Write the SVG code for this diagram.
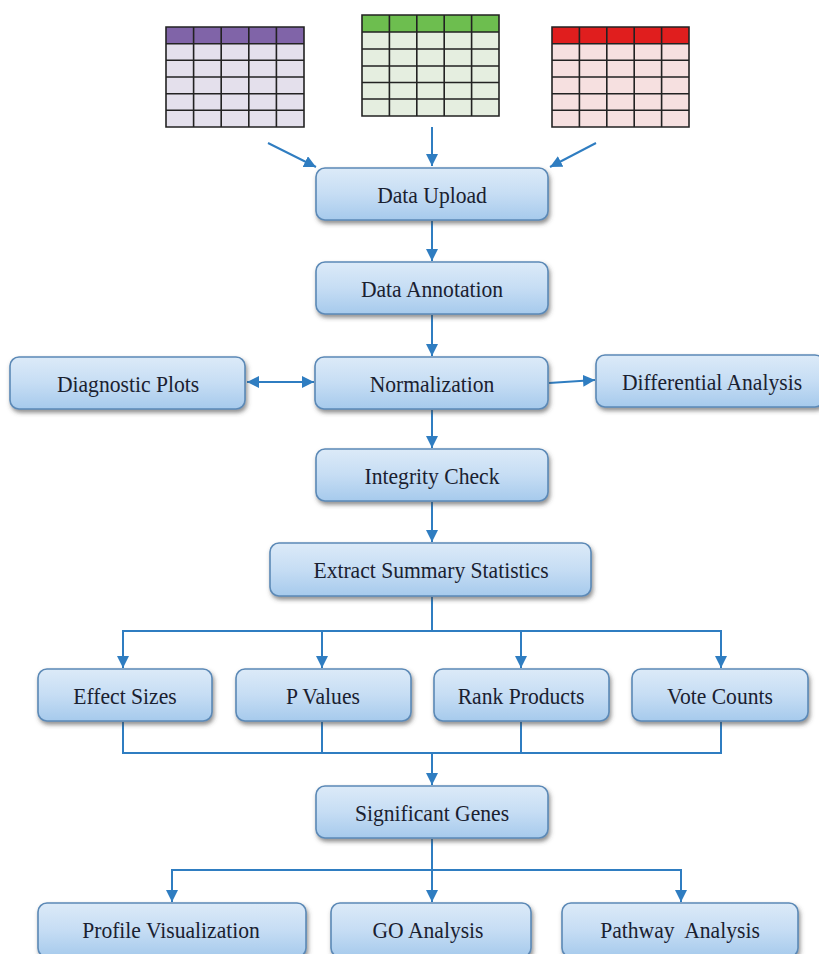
<svg xmlns="http://www.w3.org/2000/svg" width="819" height="954" viewBox="0 0 819 954">
<defs>
<linearGradient id="boxGrad" x1="0" y1="0" x2="0" y2="1">
<stop offset="0" stop-color="#DCEAF8"/>
<stop offset="0.5" stop-color="#C6DDF4"/>
<stop offset="1" stop-color="#A6CAEC"/>
</linearGradient>
<filter id="shadow" x="-10%" y="-20%" width="125%" height="160%">
<feDropShadow dx="1.5" dy="3" stdDeviation="2" flood-color="#444" flood-opacity="0.6"/>
</filter>
<marker id="arrow" markerUnits="userSpaceOnUse" markerWidth="12" markerHeight="12" viewBox="0 0 12 12" refX="12" refY="6" orient="auto-start-reverse">
<path d="M0,0 L12,6 L0,12 z" fill="#2F7DC1"/>
</marker>
</defs>
<style>
.box{fill:url(#boxGrad);stroke:#5B89B6;stroke-width:1.6;filter:url(#shadow)}
.lbl{font-family:"Liberation Serif","Times New Roman",serif;font-size:24px;fill:#1A2130;text-anchor:middle;white-space:pre}
.conn{stroke:#2F7DC1;stroke-width:2;fill:none}
.grid{stroke:#222;stroke-width:1.6;fill:none}
</style>
<rect width="819" height="954" fill="#ffffff"/>

<g id="table-purple">
<rect x="166" y="27" width="138" height="100" fill="#E4E0EC"/>
<rect x="166" y="27" width="138" height="16.7" fill="#8064A8"/>
<path class="grid" d="M166,27 H304 V127 H166 Z M166,43.7 H304 M166,60.3 H304 M166,77 H304 M166,93.7 H304 M166,110.3 H304 M193.6,27 V127 M221.2,27 V127 M248.8,27 V127 M276.4,27 V127"/>
</g>
<g id="table-green">
<rect x="362" y="15" width="137" height="101" fill="#E5EEE0"/>
<rect x="362" y="15" width="137" height="17" fill="#6DBE4F"/>
<path class="grid" d="M362,15 H499 V116 H362 Z M362,32 H499 M362,49 H499 M362,66 H499 M362,82.5 H499 M362,99 H499 M389.4,15 V116 M416.8,15 V116 M444.2,15 V116 M471.6,15 V116"/>
</g>
<g id="table-red">
<rect x="552" y="27" width="137" height="100" fill="#F6E0E0"/>
<rect x="552" y="27" width="137" height="16.7" fill="#E01E1E"/>
<path class="grid" d="M552,27 H689 V127 H552 Z M552,43.7 H689 M552,60.3 H689 M552,77 H689 M552,93.7 H689 M552,110.3 H689 M579.4,27 V127 M606.8,27 V127 M634.2,27 V127 M661.6,27 V127"/>
</g>

<g id="connectors">
<line class="conn" x1="268" y1="143" x2="316" y2="167" marker-end="url(#arrow)"/>
<line class="conn" x1="432" y1="127" x2="432" y2="166" marker-end="url(#arrow)"/>
<line class="conn" x1="596" y1="143" x2="550" y2="167" marker-end="url(#arrow)"/>
<line class="conn" x1="432" y1="221" x2="432" y2="261" marker-end="url(#arrow)"/>
<line class="conn" x1="432" y1="315" x2="432" y2="356" marker-end="url(#arrow)"/>
<line class="conn" x1="247" y1="382" x2="314" y2="382" marker-start="url(#arrow)" marker-end="url(#arrow)"/>
<line class="conn" x1="549" y1="383" x2="595" y2="380" marker-end="url(#arrow)"/>
<line class="conn" x1="432" y1="410" x2="432" y2="448" marker-end="url(#arrow)"/>
<line class="conn" x1="432" y1="502" x2="432" y2="542" marker-end="url(#arrow)"/>
<path class="conn" d="M432,597 V631 M123,631 H721"/>
<line class="conn" x1="123" y1="630" x2="123" y2="668" marker-end="url(#arrow)"/>
<line class="conn" x1="322" y1="630" x2="322" y2="668" marker-end="url(#arrow)"/>
<line class="conn" x1="521" y1="630" x2="521" y2="668" marker-end="url(#arrow)"/>
<line class="conn" x1="721" y1="630" x2="721" y2="668" marker-end="url(#arrow)"/>
<path class="conn" d="M123,722 V753 M322,722 V753 M521,722 V753 M721,722 V753 M122,753 H722"/>
<line class="conn" x1="432" y1="753" x2="432" y2="785" marker-end="url(#arrow)"/>
<path class="conn" d="M432,839 V870 M171,870 H682"/>
<line class="conn" x1="172" y1="869" x2="172" y2="902" marker-end="url(#arrow)"/>
<line class="conn" x1="432" y1="869" x2="432" y2="902" marker-end="url(#arrow)"/>
<line class="conn" x1="681" y1="869" x2="681" y2="902" marker-end="url(#arrow)"/>
</g>

<g id="data-upload"><rect class="box" x="316" y="168" width="232" height="52" rx="9"/><text class="lbl" transform="translate(432,202.5) scale(0.9,1)">Data Upload</text></g>
<g id="data-annotation"><rect class="box" x="316" y="262" width="232" height="52" rx="9"/><text class="lbl" transform="translate(432,296.5) scale(0.9,1)">Data Annotation</text></g>
<g id="diagnostic-plots"><rect class="box" x="10" y="357" width="235" height="52" rx="9"/><text class="lbl" transform="translate(128,391.5) scale(0.9,1)">Diagnostic Plots</text></g>
<g id="normalization"><rect class="box" x="315" y="357" width="233" height="52" rx="9"/><text class="lbl" transform="translate(432,391.5) scale(0.9,1)">Normalization</text></g>
<g id="differential-analysis"><rect class="box" x="596" y="355" width="228" height="52" rx="9"/><text class="lbl" transform="translate(712,389.5) scale(0.9,1)">Differential Analysis</text></g>
<g id="integrity-check"><rect class="box" x="316" y="449" width="232" height="52" rx="9"/><text class="lbl" transform="translate(432,483.5) scale(0.9,1)">Integrity Check</text></g>
<g id="extract-summary"><rect class="box" x="270" y="543" width="321" height="53" rx="9"/><text class="lbl" transform="translate(431,577.5) scale(0.9,1)">Extract Summary Statistics</text></g>
<g id="effect-sizes"><rect class="box" x="38" y="669" width="174" height="52" rx="9"/><text class="lbl" transform="translate(125,703.5) scale(0.9,1)">Effect Sizes</text></g>
<g id="p-values"><rect class="box" x="236" y="669" width="175" height="52" rx="9"/><text class="lbl" transform="translate(323,703.5) scale(0.9,1)">P Values</text></g>
<g id="rank-products"><rect class="box" x="434" y="669" width="175" height="52" rx="9"/><text class="lbl" transform="translate(521,703.5) scale(0.9,1)">Rank Products</text></g>
<g id="vote-counts"><rect class="box" x="632" y="669" width="176" height="52" rx="9"/><text class="lbl" transform="translate(720,703.5) scale(0.9,1)">Vote Counts</text></g>
<g id="significant-genes"><rect class="box" x="316" y="786" width="232" height="52" rx="9"/><text class="lbl" transform="translate(432,820.5) scale(0.9,1)">Significant Genes</text></g>
<g id="profile-visualization"><rect class="box" x="38" y="903" width="268" height="54" rx="9"/><text class="lbl" transform="translate(171,937.5) scale(0.9,1)">Profile Visualization</text></g>
<g id="go-analysis"><rect class="box" x="331" y="903" width="200" height="54" rx="9"/><text class="lbl" transform="translate(428,937.5) scale(0.9,1)">GO Analysis</text></g>
<g id="pathway-analysis"><rect class="box" x="562" y="903" width="236" height="54" rx="9"/><text class="lbl" transform="translate(680,937.5) scale(0.9,1)">Pathway  Analysis</text></g>
</svg>
